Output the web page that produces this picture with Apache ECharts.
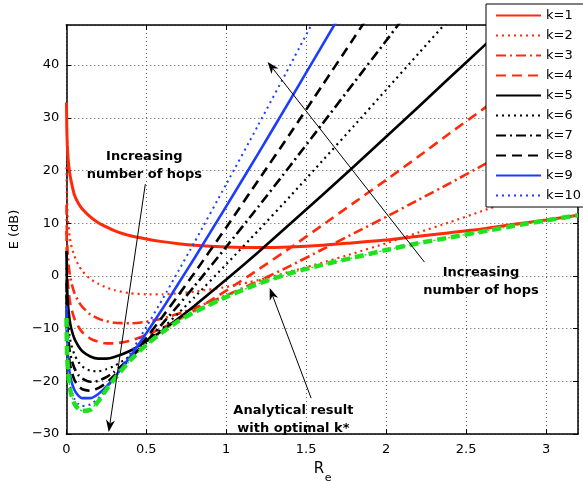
<!DOCTYPE html>
<html>
<head>
<meta charset="utf-8">
<script src="https://cdn.jsdelivr.net/npm/echarts@6/dist/echarts.min.js"></script>
<style>
  html, body { margin: 0; padding: 0; background: #fff; }
  #chart { width: 583px; height: 481px; }
</style>
</head>
<body>
<div id="chart"></div>
<script>
// End-to-end rate R_e (x positions shared by every curve)
const re = [0.001, 0.003, 0.006, 0.01, 0.02, 0.03, 0.05, 0.075, 0.1, 0.15,
            0.2, 0.25, 0.3, 0.4, 0.5, 0.6, 0.7, 0.8, 1.0, 1.2,
            1.4, 1.6, 1.8, 2.0, 2.2, 2.4, 2.6, 2.8, 3.0, 3.2];

// Energy E (dB) for k hops; null = above the plotted range
const k1  = [32.9, 27.9, 24.9, 22.7, 19.7, 18.0, 15.4, 13.8, 12.7, 11.2,
             10.1, 9.3, 8.6, 7.6, 7.0, 6.5, 6.1, 5.8, 5.5, 5.4,
             5.5, 5.8, 6.3, 6.8, 7.5, 8.2, 8.9, 9.8, 10.6, 11.5];
const k2  = [20.6, 15.8, 12.8, 10.6, 7.6, 5.9, 3.8, 2.1, 0.9, -0.6,
             -1.5, -2.2, -2.7, -3.3, -3.5, -3.5, -3.3, -3.0, -2.1, -0.8,
             0.8, 2.5, 4.3, 6.2, 8.2, 10.2, 12.3, 14.4, 16.5, 18.6];
const k3  = [13.5, 8.8, 5.8, 3.6, 0.6, -1.1, -3.2, -4.8, -5.9, -7.3,
             -8.1, -8.6, -8.9, -9.0, -8.7, -8.1, -7.2, -6.1, -3.7, -1.0,
             1.9, 5.0, 8.1, 11.2, 14.4, 17.6, 20.9, 24.2, 27.5, 30.8];
const k4  = [8.5, 3.8, 0.8, -1.4, -4.4, -6.0, -8.1, -9.6, -10.7, -11.9,
             -12.5, -12.8, -12.8, -12.3, -11.2, -9.9, -8.3, -6.6, -2.8, 1.2,
             5.3, 9.6, 13.9, 18.2, 22.6, 27.1, 31.5, 36.0, 40.6, 45.1];
const k5  = [4.7, -0.1, -3.1, -5.3, -8.2, -9.9, -11.9, -13.3, -14.3, -15.3,
             -15.7, -15.7, -15.4, -14.2, -12.4, -10.4, -8.1, -5.7, -0.7, 4.5,
             9.9, 15.3, 20.8, 26.4, 32.0, 37.7, 43.3, 49.0, null, null];
const k6  = [1.5, -3.3, -6.3, -8.4, -11.3, -13.0, -14.9, -16.3, -17.2, -18.0,
             -18.1, -17.7, -17.1, -15.2, -12.7, -10.0, -7.1, -4.1, 2.2, 8.6,
             15.1, 21.8, 28.5, 35.3, 42.1, 48.9, null, null, null, null];
const k7  = [-1.2, -5.9, -8.9, -11.1, -14.0, -15.6, -17.5, -18.8, -19.5, -20.1,
             -19.9, -19.2, -18.2, -15.6, -12.5, -9.1, -5.6, -2.0, 5.5, 13.1,
             20.9, 28.8, 36.7, 44.6, 52.7, null, null, null, null, null];
const k8  = [-3.5, -8.3, -11.2, -13.4, -16.2, -17.8, -19.7, -20.9, -21.5, -21.8,
             -21.3, -20.3, -18.9, -15.6, -11.8, -7.8, -3.7, 0.5, 9.2, 18.1,
             27.0, 36.1, 45.2, 54.4, null, null, null, null, null, null];
const k9  = [-5.6, -10.3, -13.3, -15.4, -18.2, -19.8, -21.6, -22.7, -23.2, -23.2,
             -22.4, -21.0, -19.3, -15.3, -10.9, -6.3, -1.5, 3.3, 13.2, 23.2,
             33.4, 43.7, 54.0, null, null, null, null, null, null, null];
const k10 = [-7.4, -12.1, -15.1, -17.2, -20.0, -21.6, -23.3, -24.3, -24.7, -24.4,
             -23.2, -21.4, -19.4, -14.7, -9.7, -4.5, 0.9, 6.3, 17.4, 28.6,
             40.0, 51.5, null, null, null, null, null, null, null, null];
// Analytical result with the optimal number of hops k*
const kOpt = [-8.0, -12.6, -15.6, -17.8, -20.8, -22.4, -24.2, -25.2, -25.6, -25.4,
              -23.8, -21.6, -19.6, -16.0, -13.1, -10.7, -8.6, -6.9, -4.0, -1.5,
              0.5, 2.1, 3.5, 4.9, 6.2, 7.3, 8.4, 9.5, 10.5, 11.5];

const FONT = '"DejaVu Sans", "Liberation Sans", sans-serif';
const RED = '#ff2a0a';
const BLUE = '#1c3cff';
const GREEN = '#1fe21f';
const DOT = [2, 4];
const DASHDOT = [10, 4, 2, 4];
const DASH = [10, 6];

const curves = [
  { name: 'k=1',  data: k1,  color: RED,    width: 3,   type: 'solid' },
  { name: 'k=2',  data: k2,  color: RED,    width: 2.2, type: DOT },
  { name: 'k=3',  data: k3,  color: RED,    width: 2.6, type: DASHDOT },
  { name: 'k=4',  data: k4,  color: RED,    width: 2.6, type: DASH },
  { name: 'k=5',  data: k5,  color: '#000', width: 2.6, type: 'solid' },
  { name: 'k=6',  data: k6,  color: '#000', width: 2.2, type: DOT },
  { name: 'k=7',  data: k7,  color: '#000', width: 2.6, type: DASHDOT },
  { name: 'k=8',  data: k8,  color: '#000', width: 2.6, type: DASH },
  { name: 'k=9',  data: k9,  color: BLUE,   width: 2.6, type: 'solid' },
  { name: 'k=10', data: k10, color: BLUE,   width: 2,   type: DOT }
];

function pairs(values) {
  const out = [];
  values.forEach((v, i) => { if (v !== null) out.push([re[i], v]); });
  return out;
}

function lineSeries(name, values, color, width, type, z) {
  return {
    name: name,
    type: 'line',
    data: pairs(values),
    smooth: 0.2,
    symbol: 'none',
    showSymbol: false,
    clip: true,
    z: z,
    color: color,
    lineStyle: { color: color, width: width, type: type },
    emphasis: { disabled: true },
    animation: false
  };
}

const series = curves.map((c, i) => lineSeries(c.name, c.data, c.color, c.width, c.type, 2 + i * 0.01));
series.push(lineSeries('k*', kOpt, GREEN, 4.5, [9, 5], 3));
series.push(lineSeries('k* thin', kOpt, GREEN, 1.3, [2, 3], 2.9));

const minus = v => String(v).replace('-', '\u2212');
const axisText = { color: '#000', fontSize: 13, fontFamily: FONT };
const gridLine = { show: true, lineStyle: { color: '#555', type: [1, 3], width: 1 } };
const edge = { show: true, onZero: false, lineStyle: { color: '#000', width: 1.5 } };
const tick = { show: true, inside: true, length: 5, lineStyle: { color: '#000', width: 1 } };

const xRange = { min: 0, max: 3.2, interval: 0.5 };
const yRange = { min: -30, max: 47.6, interval: 10 };

const option = {
  animation: false,
  backgroundColor: '#fff',
  grid: { left: 59, right: 5, top: 25, bottom: 47, containLabel: false },
  xAxis: [
    Object.assign({ type: 'value', axisLine: edge, axisTick: tick,
      axisLabel: Object.assign({ margin: 9, showMaxLabel: false }, axisText),
      splitLine: gridLine }, xRange),
    Object.assign({ type: 'value', position: 'top', axisLine: edge, axisTick: tick,
      axisLabel: { show: false }, splitLine: { show: false } }, xRange)
  ],
  yAxis: [
    Object.assign({ type: 'value', axisLine: edge, axisTick: tick,
      axisLabel: Object.assign({ margin: 7, showMaxLabel: false, formatter: minus }, axisText),
      splitLine: gridLine,
      name: 'E (dB)', nameLocation: 'middle', nameGap: 44,
      nameTextStyle: { color: '#000', fontSize: 13, fontFamily: FONT } }, yRange),
    Object.assign({ type: 'value', position: 'right', axisLine: edge, axisTick: tick,
      axisLabel: { show: false }, splitLine: { show: false } }, yRange)
  ],
  legend: {
    data: curves.map(c => c.name),
    orient: 'vertical',
    left: 486,
    top: 4,
    itemWidth: 45,
    itemHeight: 14,
    itemGap: 7,
    padding: [5, 4, 5, 9],
    backgroundColor: '#fff',
    borderColor: '#000',
    borderWidth: 1,
    borderRadius: 0,
    selectedMode: false,
    z: 10,
    itemStyle: { opacity: 0, borderWidth: 0 },
    textStyle: { color: '#000', fontSize: 13, fontFamily: FONT }
  },
  series: series
};

const chart = echarts.init(document.getElementById('chart'), null, { renderer: 'canvas' });
chart.setOption(option);

// Annotations placed in data coordinates
const arrows = [
  { tail: [0.494, 17.4], tip: [0.265, -29.6] },
  { tail: [2.24, 2.6],   tip: [1.259, 40.6] },
  { tail: [1.531, -23.2], tip: [1.272, -2.3] }
];
const notes = [
  { at: [0.488, 21.0],  lines: ['Increasing', 'number of hops'] },
  { at: [2.593, -1.0],  lines: ['Increasing', 'number of hops'] },
  { at: [1.42, -27.3],  lines: ['Analytical result', 'with optimal k*'] }
];

const toPx = p => chart.convertToPixel({ xAxisIndex: 0, yAxisIndex: 0 }, p);
const elements = [];

arrows.forEach(a => {
  const t = toPx(a.tail), p = toPx(a.tip);
  const dx = p[0] - t[0], dy = p[1] - t[1];
  const len = Math.hypot(dx, dy);
  const ux = dx / len, uy = dy / len, nx = -uy, ny = ux;
  const L = 12, W = 4.5, notch = 3.5;
  elements.push({
    type: 'line', z: 100, silent: true,
    shape: { x1: t[0], y1: t[1], x2: p[0] - ux * (L - notch), y2: p[1] - uy * (L - notch) },
    style: { stroke: '#000', lineWidth: 1 }
  });
  elements.push({
    type: 'polygon', z: 100, silent: true,
    shape: { points: [
      [p[0], p[1]],
      [p[0] - ux * L + nx * W, p[1] - uy * L + ny * W],
      [p[0] - ux * (L - notch), p[1] - uy * (L - notch)],
      [p[0] - ux * L - nx * W, p[1] - uy * L - ny * W]
    ] },
    style: { fill: '#000' }
  });
});

notes.forEach(n => {
  const c = toPx(n.at);
  n.lines.forEach((s, i) => {
    elements.push({
      type: 'text', z: 101, silent: true,
      x: c[0], y: c[1] + (i - 0.5) * 18,
      style: {
        text: s, fill: '#000', font: 'bold 13px ' + FONT,
        align: 'center', verticalAlign: 'middle',
        textAlign: 'center', textVerticalAlign: 'middle'
      }
    });
  });
});

// x-axis title: R with subscript e
const mid = toPx([1.6, -30]);
elements.push({
  type: 'text', z: 101, silent: true, x: mid[0] + 2, y: mid[1] + 35,
  style: { text: 'R', fill: '#000', font: '15px ' + FONT,
    align: 'right', verticalAlign: 'middle', textAlign: 'right', textVerticalAlign: 'middle' }
});
elements.push({
  type: 'text', z: 101, silent: true, x: mid[0] + 2.5, y: mid[1] + 44,
  style: { text: 'e', fill: '#000', font: '11px ' + FONT,
    align: 'left', verticalAlign: 'middle', textAlign: 'left', textVerticalAlign: 'middle' }
});

chart.setOption({ graphic: { elements: elements } });
</script>
</body>
</html>
